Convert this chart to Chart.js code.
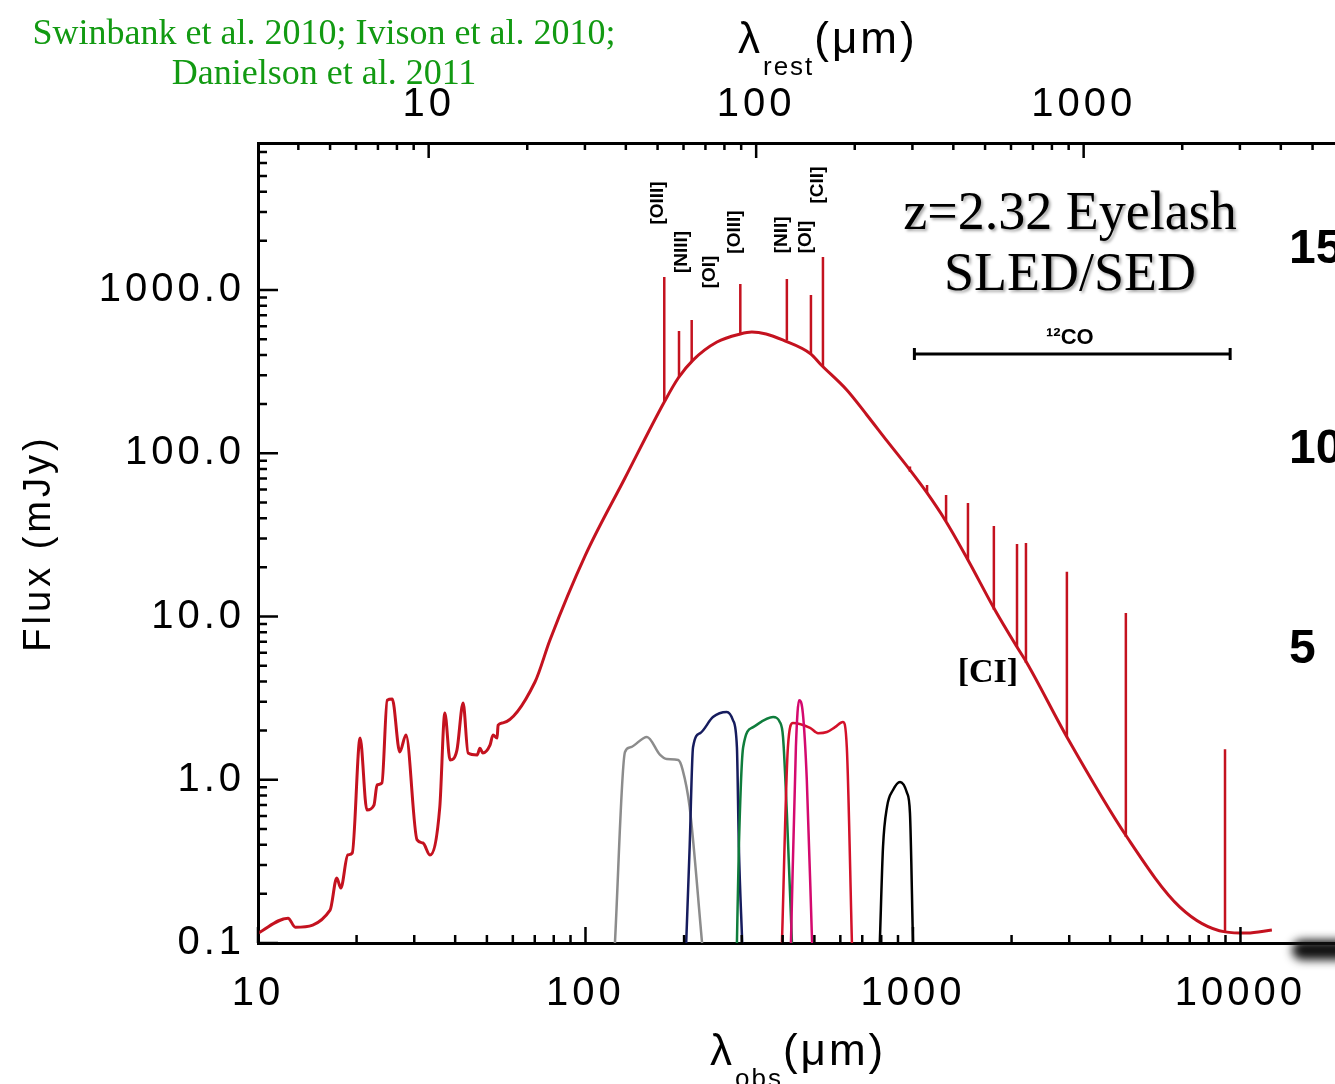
<!DOCTYPE html>
<html>
<head>
<meta charset="utf-8">
<script src="https://cdn.jsdelivr.net/npm/chart.js@4.4.1/dist/chart.umd.min.js"></script>
<style>
  html, body { margin: 0; padding: 0; background: #fff; overflow: hidden; width: 1335px; height: 1084px; }
  #wrap { position: relative; width: 1335px; height: 1084px; overflow: hidden; }
  #sed { position: absolute; left: 0; top: 0; }
  .txt { position: absolute; white-space: nowrap; }
  #cite { left: 24px; top: 12px; width: 600px; text-align: center; font-family: "Liberation Serif", serif;
          font-size: 36px; line-height: 40px; color: #129a12; }
  #title { left: 870px; top: 181px; width: 400px; text-align: center; font-family: "Liberation Serif", serif;
           font-size: 54px; line-height: 61px; color: #000; text-shadow: 2px 2px 3px rgba(0,0,0,0.35); }
  .axt { font-family: "Liberation Sans", sans-serif; font-size: 44px; line-height: 56px; letter-spacing: 3px; color: #000; }
  .axt .sub { font-size: 26px; position: relative; top: 22px; letter-spacing: 2px; }
  .side { font-family: "Liberation Sans", sans-serif; font-weight: bold; font-size: 48px; line-height: 50px; left: 1289px; }
  #shadow { left: 1292px; top: 940px; width: 70px; height: 20px; background: #111; filter: blur(5px); border-radius: 10px; }
</style>
</head>
<body>
<div id="wrap">
  <canvas id="sed" width="1377" height="1084"></canvas>
  <div id="cite" class="txt">Swinbank et al. 2010; Ivison et al. 2010;<br>Danielson et al. 2011</div>
  <div id="title" class="txt">z=2.32 Eyelash<br>SLED/SED</div>
  <div class="txt axt" style="left:738px; top:10px;">λ<span class="sub">rest</span>(μm)</div>
  <div class="txt axt" style="left:710px; top:1022px;">λ<span class="sub">obs</span>(μm)</div>
  <div class="txt side" style="top:222px;">15</div>
  <div class="txt side" style="top:422px;">10</div>
  <div class="txt side" style="top:622px;">5</div>
  <div id="shadow" class="txt"></div>
</div>
<script>
// observed wavelength (um) and flux (mJy) of the model SED
const sedWave = [10, 12.35, 13.0, 16.6, 17.4, 17.9, 18.8, 19.4, 20.5, 21.5,
  22.6, 23.1, 23.9, 24.8, 25.7, 27.1, 28.3, 30.6, 31.9, 33.5,
  35.9, 37.2, 38.6, 40.5, 42.3, 43.8, 46.7, 47.6, 48.6, 51.1,
  52.2, 53.7, 54.1, 56.0, 70.1, 77.9, 99.7, 132, 174, 192,
  213, 252, 297, 322, 356, 400, 488, 521, 628, 724,
  833, 979, 1104, 1253, 1472, 1778, 2078, 2228, 2951, 4502,
  6531, 8974, 10470, 12470];
const sedFlux = [0.115, 0.142, 0.125, 0.159, 0.25, 0.217, 0.346, 0.356, 1.80, 0.653,
  0.70, 0.93, 0.955, 3.07, 3.12, 1.48, 1.88, 0.428, 0.41, 0.346,
  0.68, 2.56, 1.32, 1.52, 2.95, 1.46, 1.42, 1.56, 1.46, 1.63,
  1.88, 1.80, 2.16, 2.23, 3.97, 7.18, 23.5, 70.5, 206, 289,
  372, 480, 538, 553, 538, 494, 405, 352, 244, 171,
  119, 78.9, 57.1, 39.0, 22.2, 11.0, 6.50, 5.19, 1.83, 0.446,
  0.166, 0.117, 0.115, 0.120];

// emission lines: wavelength, flux at continuum, flux at peak
const lineWave = [174, 193, 211, 297, 412, 488, 531, 979, 1104, 1262, 1472, 1766, 2078, 2213, 2951, 4467, 8970];
const lineBase = [206, 293, 362, 538, 490, 405, 340, 77.0, 57.1, 38.5, 22.2, 11.0, 6.50, 5.19, 1.83, 0.446, 0.117];
const lineTop = [1202, 561, 655, 1088, 1168, 931, 1592, 83.0, 64.0, 55.5, 49.5, 35.8, 27.8, 28.2, 18.8, 10.5, 1.54];

const labelNames = ["[OIII]", "[NIII]", "[OI]", "[OIII]", "[NII]", "[OI]", "[CII]"];
const labelWave = [166, 197, 240, 286, 398, 471, 513];
const labelFlux = [3412, 1710, 1289, 2265, 2175, 2113, 4396];

// filter transmission curves (arbitrary units, on the flux axis)
const pacsWave = [123, 132, 137, 154, 169, 177, 192, 198, 208, 227];
const pacsT = [0.1, 1.48, 1.58, 1.83, 1.42, 1.34, 1.32, 1.15, 0.68, 0.1];
const b250Wave = [203, 208, 213, 224, 245, 270, 282, 290, 294, 301];
const b250T = [0.1, 0.387, 1.58, 1.93, 2.42, 2.60, 2.32, 1.58, 0.387, 0.1];
const b350Wave = [290, 294, 303, 325, 374, 392, 401, 412, 427];
const b350T = [0.1, 0.387, 1.58, 2.10, 2.42, 2.26, 1.83, 0.625, 0.1];
const b500Wave = [398, 415, 430, 485, 513, 546, 578, 611, 628, 651];
const b500T = [0.1, 1.58, 2.23, 2.08, 1.93, 1.96, 2.10, 2.26, 1.58, 0.1];
const s450Wave = [424, 439, 449, 461, 474, 492];
const s450T = [0.1, 1.58, 3.07, 2.56, 1.0, 0.1];
const s870Wave = [792, 810, 833, 869, 913, 959, 979, 1000];
const s870T = [0.1, 0.387, 0.68, 0.865, 0.97, 0.83, 0.625, 0.1];

const coWave = [1010, 9300];
const coFlux = 405;
const coLabel = { text: "\u00b9\u00b2CO", wave: 3013, flux: 508 };
const ciLabel = { text: "[CI]", wave: 1694, flux: 4.51 };

const z = 2.32;
const xMin = 10;
const xMax = 21600;
const yMin = 0.1;
const yMax = 7950;

const toPts = (w, v) => w.map((x, i) => ({ x: x, y: v[i] }));

const spikePts = [];
lineWave.forEach((w, i) => {
  spikePts.push({ x: w, y: lineBase[i] }, { x: w, y: lineTop[i] }, { x: w, y: null });
});

function isPow10(v) {
  const e = Math.log10(v);
  return Math.abs(e - Math.round(e)) < 1e-9;
}

const yLabel = (v) => isPow10(v) ? v.toFixed(1) : "";

const axisExtras = {
  id: "axisExtras",
  beforeLayout(chart) { chart.ctx.letterSpacing = "4px"; },
  beforeDraw(chart) { chart.ctx.letterSpacing = "4px"; },
  afterDraw(chart) {
    const ctx = chart.ctx;
    const a = chart.chartArea;
    const xs = chart.scales.x, xt = chart.scales.xTop, ys = chart.scales.y;
    ctx.save();
    ctx.letterSpacing = "0px";

    // inward tick marks
    const each = (scale, lo, hi, fn) => {
      scale.ticks.forEach(t => {
        const v = t.value;
        const e = Math.floor(Math.log10(v) + 1e-9);
        const m = v / Math.pow(10, e);
        if (Math.abs(m - Math.round(m)) > 1e-6) return;
        const p = scale.getPixelForValue(v);
        if (p < lo - 1 || p > hi + 1) return;
        fn(p, Math.round(m) === 1);
      });
    };
    ctx.strokeStyle = "#000";
    ctx.lineWidth = 2.5;
    ctx.beginPath();
    each(xs, a.left, a.right, (p, major) => { ctx.moveTo(p, a.bottom); ctx.lineTo(p, a.bottom - (major ? 16 : 8)); });
    each(xt, a.left, a.right, (p, major) => { ctx.moveTo(p, a.top); ctx.lineTo(p, a.top + (major ? 15 : 7)); });
    each(ys, a.top, a.bottom, (p, major) => { ctx.moveTo(a.left, p); ctx.lineTo(a.left + (major ? 20 : 9), p); });
    ctx.stroke();

    // 12CO bar end caps
    ctx.lineWidth = 3;
    ctx.beginPath();
    coWave.forEach(w => {
      const px = xs.getPixelForValue(w), py = ys.getPixelForValue(coFlux);
      ctx.moveTo(px, py - 6); ctx.lineTo(px, py + 6);
    });
    ctx.stroke();

    // line labels
    ctx.fillStyle = "#000";
    ctx.textAlign = "center";
    ctx.textBaseline = "middle";
    ctx.font = "bold 19px 'Liberation Sans'";
    labelNames.forEach((name, i) => {
      ctx.save();
      ctx.translate(xs.getPixelForValue(labelWave[i]), ys.getPixelForValue(labelFlux[i]));
      ctx.rotate(-Math.PI / 2);
      ctx.fillText(name, 0, 0);
      ctx.restore();
    });
    ctx.font = "bold 22px 'Liberation Sans'";
    ctx.fillText(coLabel.text, xs.getPixelForValue(coLabel.wave), ys.getPixelForValue(coLabel.flux));
    ctx.font = "bold 34px 'Liberation Serif'";
    ctx.fillText(ciLabel.text, xs.getPixelForValue(ciLabel.wave), ys.getPixelForValue(ciLabel.flux));
    ctx.restore();
  }
};

Chart.defaults.font.family = "'Liberation Sans'";
Chart.defaults.color = "#000";

const filterStyle = (color) => ({
  borderWidth: 2.5,
  pointRadius: 0,
  fill: false,
  cubicInterpolationMode: "monotone",
  borderColor: color
});

const ctx = document.getElementById("sed").getContext("2d");
new Chart(ctx, {
  type: "line",
  data: {
    datasets: [
      { label: "SED", data: toPts(sedWave, sedFlux), borderColor: "#c4121f", borderWidth: 3,
        pointRadius: 0, fill: false, cubicInterpolationMode: "monotone" },
      { label: "lines", data: spikePts, borderColor: "#c4121f", borderWidth: 2.5,
        pointRadius: 0, fill: false, spanGaps: false },
      { label: "12CO", data: coWave.map(w => ({ x: w, y: coFlux })), borderColor: "#000",
        borderWidth: 3, pointRadius: 0, fill: false },
      Object.assign({ label: "450", data: toPts(s450Wave, s450T) }, filterStyle("#d4096e")),
      Object.assign({ label: "500", data: toPts(b500Wave, b500T) }, filterStyle("#d3112a")),
      Object.assign({ label: "350", data: toPts(b350Wave, b350T) }, filterStyle("#0f7d3c")),
      Object.assign({ label: "250", data: toPts(b250Wave, b250T) }, filterStyle("#161c5e")),
      Object.assign({ label: "160", data: toPts(pacsWave, pacsT) }, filterStyle("#8c8c8c")),
      Object.assign({ label: "870", data: toPts(s870Wave, s870T) }, filterStyle("#000000"))
    ]
  },
  options: {
    responsive: false,
    animation: false,
    layout: { padding: { left: 0, right: 0, top: 0, bottom: 0 } },
    plugins: { legend: { display: false }, tooltip: { enabled: false } },
    scales: {
      x: {
        type: "logarithmic",
        position: "bottom",
        min: xMin,
        max: xMax,
        grid: { display: false, drawTicks: false },
        border: { display: true, color: "#000", width: 3 },
        ticks: {
          autoSkip: false, maxRotation: 0, padding: 27,
          font: { size: 40 },
          callback: (v) => isPow10(v) ? String(Math.round(v)) : ""
        },
        afterFit: (s) => { s.height = 141; }
      },
      xTop: {
        type: "logarithmic",
        position: "top",
        min: xMin / (1 + z),
        max: xMax / (1 + z),
        grid: { display: false, drawTicks: false },
        border: { display: true, color: "#000", width: 3 },
        ticks: {
          autoSkip: false, maxRotation: 0, padding: 14,
          font: { size: 40 },
          callback: (v) => isPow10(v) && v >= 10 ? String(Math.round(v)) : ""
        },
        afterFit: (s) => { s.height = 143; }
      },
      y: {
        type: "logarithmic",
        position: "left",
        min: yMin,
        max: yMax,
        grid: { display: false, drawTicks: false },
        border: { display: true, color: "#000", width: 3 },
        title: { display: true, text: "Flux (mJy)", font: { size: 38 }, padding: { top: 17, bottom: 0 } },
        ticks: {
          autoSkip: false, padding: 13,
          font: { size: 40 },
          callback: yLabel
        },
        afterFit: (s) => { s.width = 258; }
      }
    }
  },
  plugins: [axisExtras]
});
</script>
</body>
</html>
